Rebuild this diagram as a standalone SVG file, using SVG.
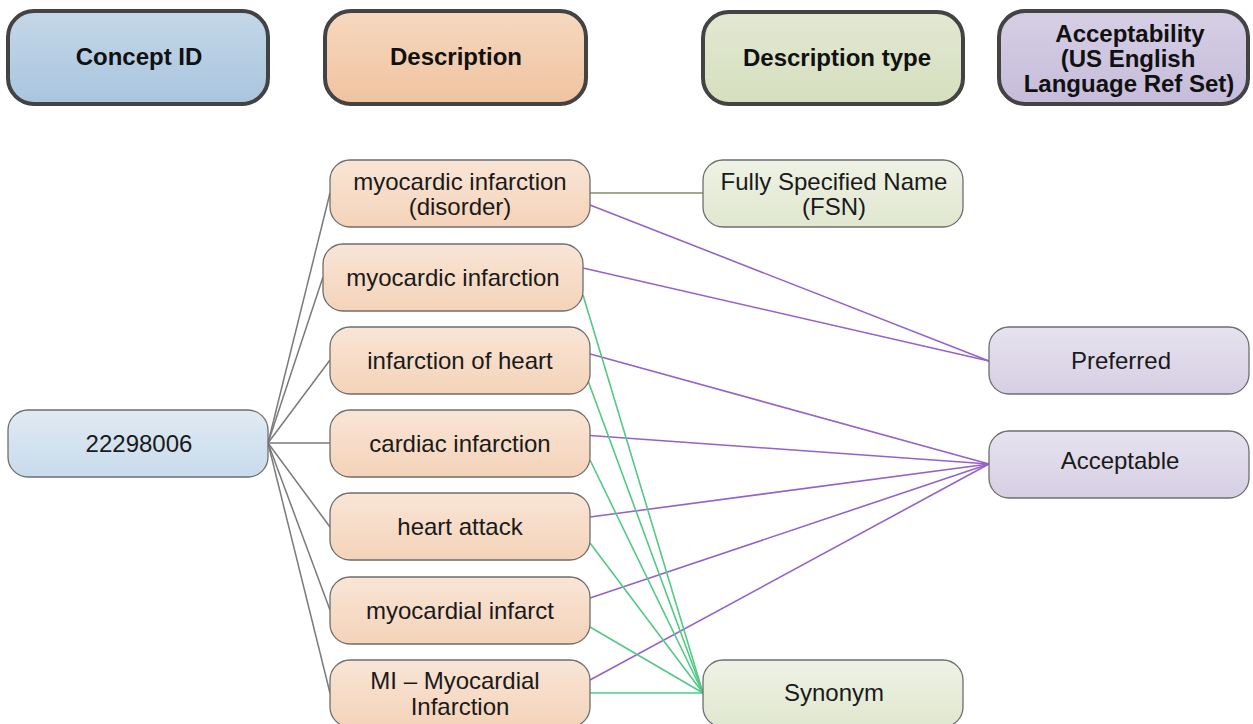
<svg xmlns="http://www.w3.org/2000/svg" width="1253" height="724" viewBox="0 0 1253 724">
<defs>
<linearGradient id="gBlueH" x1="0" y1="0" x2="0" y2="1"><stop offset="0" stop-color="#c4d7e8"/><stop offset="1" stop-color="#a9c5de"/></linearGradient>
<linearGradient id="gOrangeH" x1="0" y1="0" x2="0" y2="1"><stop offset="0" stop-color="#f6d8bf"/><stop offset="1" stop-color="#f0c3a0"/></linearGradient>
<linearGradient id="gGreenH" x1="0" y1="0" x2="0" y2="1"><stop offset="0" stop-color="#e2e8d2"/><stop offset="1" stop-color="#d6dfbe"/></linearGradient>
<linearGradient id="gPurpleH" x1="0" y1="0" x2="0" y2="1"><stop offset="0" stop-color="#d6cfe4"/><stop offset="1" stop-color="#c6bcda"/></linearGradient>
<linearGradient id="gBlue" x1="0" y1="0" x2="0" y2="1"><stop offset="0" stop-color="#e1eaf3"/><stop offset="1" stop-color="#c8dbec"/></linearGradient>
<linearGradient id="gOrange" x1="0" y1="0" x2="0" y2="1"><stop offset="0" stop-color="#f9e5d6"/><stop offset="1" stop-color="#f4d3b9"/></linearGradient>
<linearGradient id="gGreen" x1="0" y1="0" x2="0" y2="1"><stop offset="0" stop-color="#eef2e5"/><stop offset="1" stop-color="#e0e7cf"/></linearGradient>
<linearGradient id="gPurple" x1="0" y1="0" x2="0" y2="1"><stop offset="0" stop-color="#e6e2ee"/><stop offset="1" stop-color="#d6cfe4"/></linearGradient>
</defs>
<style>
.hdr{stroke:#434343;stroke-width:4}
.node{stroke:#6e6e6e;stroke-width:1.3}
.ht{font-family:"Liberation Sans",Arial,sans-serif;font-weight:bold;font-size:24px;fill:#111;text-anchor:middle}
.t{font-family:"Liberation Sans",Arial,sans-serif;font-size:24px;fill:#1a1a1a;text-anchor:middle}
.gray{stroke:#7a7a7a;stroke-width:1.5;fill:none}
.olive{stroke:#a3aa8c;stroke-width:2;fill:none}
.purple{stroke:#9462c9;stroke-width:1.6;fill:none}
.green{stroke:#52c987;stroke-width:1.6;fill:none}
</style>
<rect width="1253" height="724" fill="#ffffff"/>

<g id="connectors">
<line class="gray" x1="268" y1="443" x2="330" y2="193"/>
<line class="gray" x1="268" y1="443" x2="323" y2="277"/>
<line class="gray" x1="268" y1="443" x2="330" y2="360"/>
<line class="gray" x1="268" y1="443" x2="330" y2="443"/>
<line class="gray" x1="268" y1="443" x2="330" y2="527"/>
<line class="gray" x1="268" y1="443" x2="330" y2="610"/>
<line class="gray" x1="268" y1="443" x2="330" y2="693"/>
<line class="olive" x1="590" y1="193" x2="703" y2="193"/>
<line class="purple" x1="590" y1="205" x2="989" y2="361"/>
<line class="purple" x1="583" y1="268" x2="989" y2="361"/>
<line class="purple" x1="583" y1="352" x2="989" y2="464"/>
<line class="purple" x1="583" y1="435" x2="989" y2="464"/>
<line class="purple" x1="590" y1="517" x2="989" y2="464"/>
<line class="purple" x1="590" y1="598" x2="989" y2="464"/>
<line class="purple" x1="590" y1="680" x2="989" y2="464"/>
<line class="green" x1="583" y1="295" x2="703" y2="693"/>
<line class="green" x1="587" y1="378" x2="703" y2="693"/>
<line class="green" x1="590" y1="460" x2="703" y2="693"/>
<line class="green" x1="590" y1="543" x2="703" y2="693"/>
<line class="green" x1="590" y1="627" x2="703" y2="693"/>
<line class="green" x1="590" y1="693" x2="703" y2="693"/>
</g>

<g id="hdr-concept-id"><rect class="hdr" x="8" y="11" width="260" height="93" rx="26" fill="url(#gBlueH)"/><text class="ht" x="139" y="65">Concept ID</text></g>
<g id="hdr-description"><rect class="hdr" x="325" y="11" width="261" height="93" rx="26" fill="url(#gOrangeH)"/><text class="ht" x="456" y="65">Description</text></g>
<g id="hdr-description-type"><rect class="hdr" x="703" y="12" width="260" height="92" rx="26" fill="url(#gGreenH)"/><text class="ht" x="837" y="66">Description type</text></g>
<g id="hdr-acceptability"><rect class="hdr" x="999" y="11" width="249" height="93" rx="26" fill="url(#gPurpleH)"/><text class="ht" x="1130" y="42">Acceptability</text><text class="ht" x="1128" y="67">(US English</text><text class="ht" x="1129" y="92">Language Ref Set)</text></g>

<g id="n-22298006"><rect class="node" x="8" y="410" width="260" height="67" rx="20" fill="url(#gBlue)"/><text class="t" x="139" y="452">22298006</text></g>

<g id="n-mi-disorder"><rect class="node" x="330" y="160" width="260" height="67" rx="20" fill="url(#gOrange)"/><text class="t" x="460" y="190">myocardic infarction</text><text class="t" x="460" y="215">(disorder)</text></g>
<g id="n-mi"><rect class="node" x="323" y="244" width="260" height="67" rx="20" fill="url(#gOrange)"/><text class="t" x="453" y="286">myocardic infarction</text></g>
<g id="n-ioh"><rect class="node" x="330" y="327" width="260" height="67" rx="20" fill="url(#gOrange)"/><text class="t" x="460" y="369">infarction of heart</text></g>
<g id="n-ci"><rect class="node" x="330" y="410" width="260" height="67" rx="20" fill="url(#gOrange)"/><text class="t" x="460" y="452">cardiac infarction</text></g>
<g id="n-ha"><rect class="node" x="330" y="493" width="260" height="67" rx="20" fill="url(#gOrange)"/><text class="t" x="460" y="535">heart attack</text></g>
<g id="n-myi"><rect class="node" x="330" y="577" width="260" height="67" rx="20" fill="url(#gOrange)"/><text class="t" x="460" y="619">myocardial infarct</text></g>
<g id="n-mi-abbr"><rect class="node" x="330" y="660" width="260" height="67" rx="20" fill="url(#gOrange)"/><text class="t" x="455" y="689">MI – Myocardial</text><text class="t" x="460" y="715">Infarction</text></g>

<g id="n-fsn"><rect class="node" x="703" y="160" width="260" height="67" rx="20" fill="url(#gGreen)"/><text class="t" x="834" y="190">Fully Specified Name</text><text class="t" x="834" y="215">(FSN)</text></g>
<g id="n-synonym"><rect class="node" x="703" y="660" width="260" height="67" rx="20" fill="url(#gGreen)"/><text class="t" x="834" y="701">Synonym</text></g>

<g id="n-preferred"><rect class="node" x="989" y="327" width="260" height="67" rx="20" fill="url(#gPurple)"/><text class="t" x="1121" y="369">Preferred</text></g>
<g id="n-acceptable"><rect class="node" x="989" y="431" width="260" height="67" rx="20" fill="url(#gPurple)"/><text class="t" x="1120" y="469">Acceptable</text></g>
</svg>
